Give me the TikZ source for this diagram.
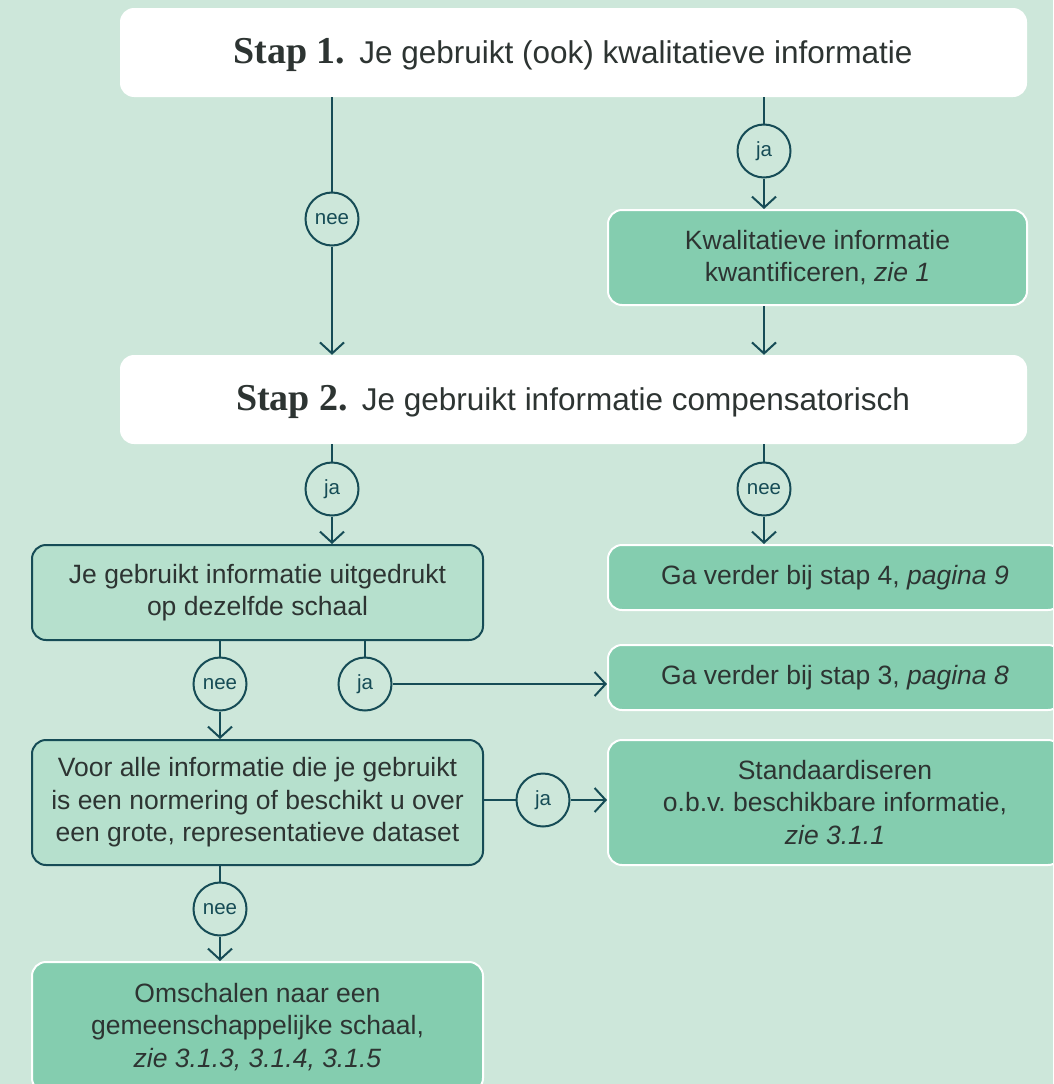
\documentclass[tikz,border=0pt]{standalone}
\usepackage{fontspec}
\setmainfont{Liberation Sans}
\newfontfamily\headserif{Liberation Serif}
\usetikzlibrary{arrows.meta}
\definecolor{bg}{RGB}{205,231,218}
\definecolor{boxgreen}{RGB}{132,205,175}
\definecolor{boxlight}{RGB}{182,224,205}
\definecolor{linecol}{RGB}{22,76,86}
\definecolor{textcol}{RGB}{45,52,50}
\tikzset{
  whitebox/.style={fill=white, draw=none, rounded corners=14pt, inner sep=0pt},
  greenbox/.style={fill=boxgreen, draw=white, line width=2pt, rounded corners=14pt, inner sep=0pt, align=center, text=textcol, font=\bodyfont},
  lightbox/.style={fill=boxlight, draw=linecol, line width=2pt, rounded corners=14pt, inner sep=0pt, align=center, text=textcol, font=\bodyfont},
  decision/.style={circle, draw=linecol, line width=2pt, fill=bg, minimum size=53pt, inner sep=0pt, text=linecol, font=\fontsize{20.5}{20.5}\selectfont},
  conn/.style={draw=linecol, line width=2pt},
  arr/.style={conn, -{Straight Barb[length=11pt,width=24pt]}},
}
\newcommand{\bodyfont}{\fontsize{26.5}{32.5}\selectfont\frenchspacing}
\newcommand{\headfont}{\fontsize{31.5}{34}\selectfont}
\newcommand{\stapfont}{\headserif\bfseries\fontsize{38}{38}\selectfont}
\begin{document}
\begin{tikzpicture}[x=1pt, y=-1pt]
\useasboundingbox (0,0) rectangle (1053,1084);
\fill[bg] (0,0) rectangle (1053,1084);
\begin{scope}
\clip (0,0) rectangle (1053,1084);
% main step boxes
\node[whitebox, minimum width=907pt, minimum height=89pt] (s1) at (573.5,52.5) {};
\node[text=textcol, inner sep=0pt] (t1) at (573,55)
  {{\stapfont Stap 1.}\hspace{14pt}{\headfont Je gebruikt (ook) kwalitatieve informatie}};
\node[whitebox, minimum width=907pt, minimum height=89pt] (s2) at (573.5,399.5) {};
\node[text=textcol, inner sep=0pt] (t2) at (573,402)
  {{\stapfont Stap 2.}\hspace{14pt}{\headfont Je gebruikt informatie compensatorisch}};
% result boxes
\node[greenbox, minimum width=419pt, minimum height=95pt] (kw) at (817.5,257.5)
  {Kwalitatieve informatie\\kwantificeren, \textit{zie 1}};
\node[lightbox, minimum width=451pt, minimum height=95pt] (A) at (257.5,592.5)
  {Je gebruikt informatie uitgedrukt\\op dezelfde schaal};
\node[greenbox, minimum width=454pt, minimum height=65pt] (g4) at (835,577.5)
  {Ga verder bij stap 4, \textit{pagina 9}};
\node[greenbox, minimum width=454pt, minimum height=65pt] (g3) at (835,677.5)
  {Ga verder bij stap 3, \textit{pagina 8}};
\node[lightbox, minimum width=451pt, minimum height=125pt] (B) at (257.5,802.5)
  {Voor alle informatie die je gebruikt\\is een normering of beschikt u over\\een grote, representatieve dataset};
\node[greenbox, minimum width=454pt, minimum height=125pt] (std) at (835,802.5)
  {Standaardiseren\\o.b.v. beschikbare informatie,\\\textit{zie 3.1.1}};
\node[greenbox, minimum width=451pt, minimum height=130pt] (C) at (257.5,1027)
  {Omschalen naar een\\gemeenschappelijke schaal,\\\textit{zie 3.1.3, 3.1.4, 3.1.5}};
% decision circles
\node[decision] (n1) at (332,219) {nee};
\node[decision] (j1) at (764,151) {ja};
\node[decision] (j2) at (332,489) {ja};
\node[decision] (n2) at (764,489) {nee};
\node[decision] (n3) at (220,684) {nee};
\node[decision] (j3) at (365,684) {ja};
\node[decision] (j4) at (543,800) {ja};
\node[decision] (n4) at (220,909) {nee};
% connectors
\draw[conn] (s1.south -| n1) -- (n1);
\draw[arr] (n1) -- (s2.north -| n1);
\draw[conn] (s1.south -| j1) -- (j1);
\draw[arr] (j1) -- (kw.north -| j1);
\draw[arr] (kw.south -| j1) -- (s2.north -| j1);
\draw[conn] (s2.south -| j2) -- (j2);
\draw[arr] (j2) -- (A.north -| j2);
\draw[conn] (s2.south -| n2) -- (n2);
\draw[arr] (n2) -- (g4.north -| n2);
\draw[conn] (A.south -| n3) -- (n3);
\draw[arr] (n3) -- (B.north -| n3);
\draw[conn] (A.south -| j3) -- (j3);
\draw[arr] (j3) -- (j3 -| g3.west);
\draw[conn] (j4 -| B.east) -- (j4);
\draw[arr] (j4) -- (j4 -| std.west);
\draw[conn] (B.south -| n4) -- (n4);
\draw[arr] (n4) -- (C.north -| n4);
\end{scope}
\end{tikzpicture}
\end{document}
